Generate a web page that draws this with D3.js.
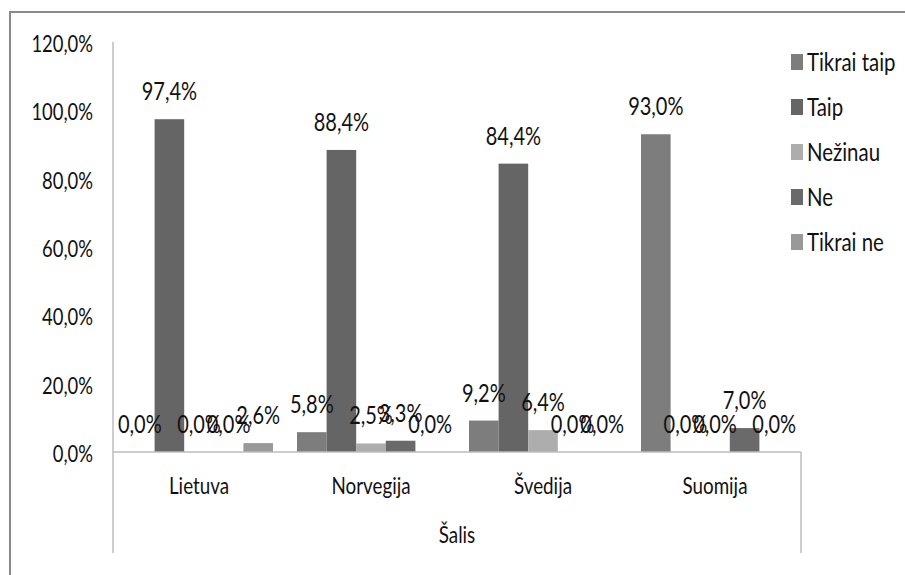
<!DOCTYPE html>
<html>
<head>
<meta charset="utf-8">
<script src="https://cdn.jsdelivr.net/npm/d3@7"></script>
<style>
  body { margin: 0; background: #fff; }
  svg text { font-family: Lato, "Liberation Sans", sans-serif; fill: #111; }
</style>
</head>
<body>
<div id="chart"></div>
<script>
/* Data */
var countries = ["Lietuva", "Norvegija", "Švedija", "Suomija"];
var series = ["Tikrai taip", "Taip", "Nežinau", "Ne", "Tikrai ne"];
var tikraiTaip = [0.0, 5.8, 9.2, 93.0];
var taip = [97.4, 88.4, 84.4, 0.0];
var nezinau = [0.0, 2.5, 6.4, 0.0];
var ne = [0.0, 3.3, 0.0, 7.0];
var tikraiNe = [2.6, 0.0, 0.0, 0.0];
var yTicks = [0, 20, 40, 60, 80, 100, 120];
var axisTitle = "Šalis";

var seriesValues = [tikraiTaip, taip, nezinau, ne, tikraiNe];
var colors = ["#7d7d7d", "#656565", "#adadad", "#6a6a6a", "#999999"];

var width = 905, height = 575;
var sx = 0.8; // the reference text is horizontally squeezed
var svg = d3.select("#chart").append("svg")
	.attr("width", width)
	.attr("height", height);

// places a squeezed text at x,y
function squeeze(sel, fx, fy) {
	sel.attr("transform", function(d, i) {
		return "translate(" + fx(d, i) + "," + fy(d, i) + ") scale(" + sx + ",1)";
	});
}

// outer frame (right and bottom edges fall outside the picture)
svg.append("rect")
	.attr("x", 10).attr("y", 12)
	.attr("width", 920).attr("height", 600)
	.attr("fill", "none")
	.attr("stroke", "#8a8a8a")
	.attr("stroke-width", 2);

var plotLeft = 113, plotRight = 801, plotTop = 42, plotBottom = 452, catBottom = 553;

var x0 = d3.scaleBand().domain(countries).range([plotLeft, plotRight]);
var x1 = d3.scaleBand().domain(series).range([12, x0.bandwidth() - 12]);
var y = d3.scaleLinear().domain([0, 120]).range([plotBottom, plotTop]);

var fmt = function(v) { return v.toFixed(1).replace(".", ",") + "%"; };

/* ------- Y AXIS ------- */
var yAxis = d3.axisLeft(y).tickValues(yTicks).tickSize(0).tickFormat(fmt);
var gy = svg.append("g").attr("transform", "translate(" + plotLeft + ",0)").call(yAxis);
gy.select(".domain").remove();
gy.attr("font-family", null).attr("font-size", null);
gy.selectAll("text")
	.attr("x", null).attr("dy", null)
	.attr("dominant-baseline", "central")
	.attr("font-size", 23)
	.attr("transform", "translate(-20,0) scale(" + sx + ",1)");

// axis lines
svg.append("line")
	.attr("x1", plotLeft).attr("x2", plotLeft)
	.attr("y1", plotTop).attr("y2", catBottom)
	.attr("stroke", "#bdbdbd").attr("stroke-width", 1.5);
svg.append("line")
	.attr("x1", plotRight).attr("x2", plotRight)
	.attr("y1", plotBottom).attr("y2", catBottom)
	.attr("stroke", "#bdbdbd").attr("stroke-width", 1.5);

/* ------- BARS ------- */
var groups = svg.append("g").selectAll("g")
	.data(countries)
	.enter().append("g")
	.attr("transform", function(d) { return "translate(" + x0(d) + ",0)"; });

function rowOf(d, i) {
	return series.map(function(s, j) { return {s: s, j: j, v: seriesValues[j][i]}; });
}

groups.selectAll("rect")
	.data(rowOf)
	.enter().append("rect")
	.attr("x", function(d) { return x1(d.s); })
	.attr("width", x1.bandwidth())
	.attr("y", function(d) { return y(d.v); })
	.attr("height", function(d) { return y(0) - y(d.v); })
	.attr("fill", function(d) { return colors[d.j]; });

svg.append("line")
	.attr("x1", plotLeft).attr("x2", plotRight)
	.attr("y1", plotBottom).attr("y2", plotBottom)
	.attr("stroke", "#bdbdbd").attr("stroke-width", 1.5);

/* ------- VALUE LABELS ------- */
groups.selectAll("text.val")
	.data(rowOf)
	.enter().append("text")
	.attr("class", "val")
	.attr("text-anchor", "middle")
	.attr("font-size", 25)
	.text(function(d) { return fmt(d.v); })
	.call(squeeze, function(d) { return x1(d.s) + x1.bandwidth() / 2; },
		function(d) { return y(d.v) - 19; });

/* ------- CATEGORY LABELS ------- */
svg.append("g").selectAll("text")
	.data(countries)
	.enter().append("text")
	.attr("text-anchor", "middle")
	.attr("font-size", 23.5)
	.text(function(d) { return d; })
	.call(squeeze, function(d) { return x0(d) + x0.bandwidth() / 2; },
		function() { return 494; });

svg.append("text")
	.attr("text-anchor", "middle")
	.attr("font-size", 23.5)
	.text(axisTitle)
	.call(squeeze, function() { return (plotLeft + plotRight) / 2; },
		function() { return 543; });

/* ------- LEGEND ------- */
var legend = svg.append("g").selectAll("g")
	.data(series)
	.enter().append("g")
	.attr("transform", function(d, i) { return "translate(791," + (62 + i * 45) + ")"; });
legend.append("rect")
	.attr("x", 0).attr("y", -8)
	.attr("width", 12).attr("height", 16)
	.attr("fill", function(d, i) { return colors[i]; });
legend.append("text")
	.attr("font-size", 25.5)
	.text(function(d) { return d; })
	.call(squeeze, function() { return 16; }, function() { return 9; });
</script>
</body>
</html>
